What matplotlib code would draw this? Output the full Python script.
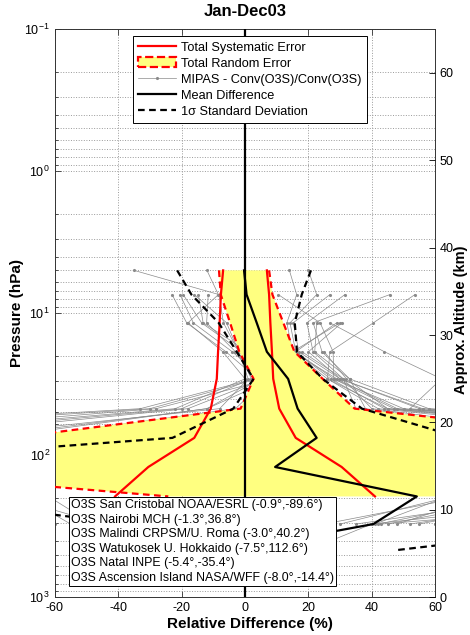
import numpy as np
import matplotlib
matplotlib.use('Agg')
import matplotlib.pyplot as plt
from matplotlib.lines import Line2D
from matplotlib.patches import Patch
from matplotlib.ticker import FixedLocator, LogFormatterSciNotation, NullFormatter

plt.rcParams['font.family'] = ['Liberation Sans', 'DejaVu Sans']
plt.rcParams['axes.unicode_minus'] = False
plt.rcParams['mathtext.fontset'] = 'custom'
plt.rcParams['mathtext.rm'] = 'Liberation Sans'
plt.rcParams['mathtext.it'] = 'Liberation Sans:italic'
plt.rcParams['mathtext.bf'] = 'Liberation Sans:bold'

# ---------------- data ----------------
title = 'Jan-Dec03'
pressure = np.array([5.0, 7.4, 11.7, 18.7, 29.0, 47.0, 75.5, 121.0, 195.0, 305.0, 464.0])
mean_diff = np.array([-0.3, 0.5, 3.7, 6.9, 13.6, 16.6, 22.6, 9.5, 54.2, 40.5, -3.5])
std_dev = np.array([21.1, 17.4, 12.0, 9.5, 10.9, 20.3, 45.5, 156.0, 159.7, 77.5, 51.8])
sys_err = np.array([6.9, 7.6, 8.0, 8.5, 8.9, 10.8, 16.0, 30.5, 41.0])
rand_err = np.array([7.9, 8.15, 8.4, 8.7, 10.9, 18.0, 96.4, 145.0, 78.4])

nan = np.nan
g01 = [-35, -8.2, -6.8, -2, 1, -8, -95, -150, -70, -55, nan]
g02 = [nan, -23, -18.4, -6, 4, -30, -170, -210, -90, -60, nan]
g03 = [nan, -20.5, -16.3, -4, 6, -18, -110, -160, -75, -45, nan]
g04 = [nan, -19.5, -13.7, -1, 9, -12, -80, -120, nan, nan, nan]
g05 = [nan, -14.7, -13.2, 1, 7, -3, -70, -100, -80, -65, nan]
g06 = [nan, -11.6, -12.1, -3, 3, -33, -190, -230, nan, nan, nan]
g07 = [-12, -8.4, -18, -7, 0, -22, -130, -170, -95, -62, nan]
g08 = [14, 16.3, 13.2, 15, 26, 45, 150, 200, 85, 42, nan]
g09 = [20, 22.6, 14.2, 16, 28, 50, 180, 220, 120, 40, 20]
g10 = [nan, 26.8, 15.2, 17, 30, 55, 200, 250, 150, 43, nan]
g11 = [nan, 31.5, 19.5, 21.5, 31, 40, 110, 140, 70, 25, nan]
g12 = [nan, 45.7, 21.5, 24.3, 33, 58, 240, 260, 95, 35, nan]
g13 = [nan, 53.6, 40.5, 26.8, 26, 42, 130, 170, 65, 30, nan]
g14 = [nan, 10.5, 23.7, 27.8, 28, 47, 170, 190, 100, 55, nan]
g15 = [nan, nan, 26.8, 44, 62, 52, 160, 180, nan, nan, nan]
g16 = [nan, nan, 28.9, 16, 27, 44, 140, 160, 75, 48, nan]
g17 = [nan, nan, 30, 15, 29, 48, 190, 230, 110, 52, nan]
g18 = [nan, nan, 30.5, 20, 30, 56, 210, 240, nan, nan, nan]
g19 = [nan, nan, 22.6, 22, 33, 38, 100, 120, 64, 41, nan]
g20 = [nan, nan, nan, -3, 5, -12, -85, -110, -62, -48, nan]
g21 = [nan, nan, nan, 0, 8, -28, -140, -180, -75, nan, nan]
g22 = [nan, -16, -5.8, -2, 2, -20, -120, -150, nan, nan, nan]
g23 = [nan, nan, nan, 18, 31, 35, 95, 130, 90, 45, nan]
g24 = [nan, nan, nan, 25, 32, 45, 160, 190, 200, 60, nan]
gray_profiles = [g01, g02, g03, g04, g05, g06, g07, g08, g09, g10, g11, g12,
                 g13, g14, g15, g16, g17, g18, g19, g20, g21, g22, g23, g24]

x_ticks = [-60, -40, -20, 0, 20, 40, 60]
alt_ticks = [0, 10, 20, 30, 40, 50, 60]
stations = ['O3S San Cristobal NOAA/ESRL (-0.9°,-89.6°)',
            'O3S Nairobi MCH (-1.3°,36.8°)',
            'O3S Malindi CRPSM/U. Roma (-3.0°,40.2°)',
            'O3S Watukosek U. Hokkaido (-7.5°,112.6°)',
            'O3S Natal INPE (-5.4°,-35.4°)',
            'O3S Ascension Island NASA/WFF (-8.0°,-14.4°)']
legend_labels = ['Total Systematic Error', 'Total Random Error',
                 'MIPAS - Conv(O3S)/Conv(O3S)', 'Mean Difference',
                 '1σ Standard Deviation']

# ---------------- figure ----------------
W, H = 470, 635
fig = plt.figure(figsize=(W / 100, H / 100), dpi=100)
axL, axR, axT, axB = 54.8, 435.2, 29.0, 597.3
ax = fig.add_axes([axL / W, 1 - axB / H, (axR - axL) / W, (axB - axT) / H])
ax.set_yscale('log')
ax.set_xlim(-60, 60)
ax.set_ylim(1000, 0.1)
ax.set_axisbelow(True)

gcol = '#8a8a8a'
for prof in gray_profiles:
    ax.plot(prof, pressure, color=gcol, lw=0.5, marker='.', ms=2.5, zorder=1.5)

n = len(rand_err)
ax.fill_betweenx(pressure[:n], mean_diff[:n] - rand_err, mean_diff[:n] + rand_err,
                 facecolor='#ffff80', edgecolor='none', zorder=2)
dash = (0, (3, 2))
ax.plot(mean_diff[:n] - rand_err, pressure[:n], color='red', lw=1.6, ls=dash, zorder=3)
ax.plot(mean_diff[:n] + rand_err, pressure[:n], color='red', lw=1.6, ls=dash, zorder=3)
ax.plot(-sys_err, pressure[:n], color='red', lw=1.6, zorder=3.2)
ax.plot(sys_err, pressure[:n], color='red', lw=1.6, zorder=3.2)
ax.plot(mean_diff - std_dev, pressure, color='black', lw=1.6, ls=dash, zorder=3.3)
ax.plot(mean_diff + std_dev, pressure, color='black', lw=1.6, ls=dash, zorder=3.3)
ax.plot(mean_diff, pressure, color='black', lw=1.6, zorder=3.5)
ax.axvline(0, color='black', lw=1.6, zorder=4)

ax.xaxis.set_major_locator(FixedLocator(x_ticks))
ax.yaxis.set_major_formatter(LogFormatterSciNotation())
ax.yaxis.set_minor_formatter(NullFormatter())
ax.tick_params(which='both', direction='in', top=True, right=True, labelsize=9,
               width=0.6, color='#333333')
ax.tick_params(which='major', length=4)
ax.tick_params(which='minor', length=2.5)
ax.grid(True, which='major', ls=':', color='#9a9a9a', lw=0.7)
ax.grid(True, which='minor', axis='y', ls=':', color='#9a9a9a', lw=0.7)
for s in ax.spines.values():
    s.set_linewidth(0.7)
    s.set_color('#333333')

ax2 = ax.twinx()
ax2.set_ylim(0, (axB - axT) / 8.74)
ax2.set_yticks(alt_ticks)
ax2.tick_params(direction='in', labelsize=9, length=4, width=0.6, pad=3)
for s in ax2.spines.values():
    s.set_visible(False)

# legend
h_sys = Line2D([], [], color='red', lw=1.6)
h_rand = Patch(facecolor='#ffff80', edgecolor='red', ls='--', lw=1.6)
h_gray = Line2D([], [], color=gcol, lw=0.5, marker='.', ms=2.5)
h_mean = Line2D([], [], color='black', lw=1.6)
h_std = Line2D([], [], color='black', lw=1.6, ls=dash)
leg = ax2.legend([h_sys, h_rand, h_gray, h_mean, h_std], legend_labels,
                 loc='upper center', bbox_to_anchor=((250 - axL) / (axR - axL), (axB - 36) / (axB - axT)),
                 fontsize=9.2, frameon=True, fancybox=False, edgecolor='black',
                 framealpha=1, borderpad=0.4, handlelength=3.0, handletextpad=0.4,
                 handleheight=0.85, labelspacing=0.28, borderaxespad=0)
leg.get_frame().set_linewidth(0.7)
leg.set_zorder(10)

# station box
txt = ax2.text((71 - axL) / (axR - axL), (axB - 499) / (axB - axT), '\n'.join(stations),
               transform=ax2.transAxes, ha='left', va='top', fontsize=8.9, linespacing=1.28,
               zorder=10,
               bbox=dict(boxstyle='square,pad=0.2', facecolor='white', edgecolor='black', lw=0.7))

fig.text(245 / W, 1 - 12 / H, title, ha='center', va='center', fontsize=12, fontweight='bold')
fig.text(250 / W, 1 - 624 / H, 'Relative Difference (%)', ha='center', va='center',
         fontsize=11, fontweight='bold')
fig.text(17 / W, 1 - 313 / H, 'Pressure (hPa)', ha='center', va='center', rotation=90,
         fontsize=11, fontweight='bold')
fig.text(461 / W, 1 - 320 / H, 'Approx. Altitude (km)', ha='center', va='center', rotation=90,
         fontsize=10.5, fontweight='bold')

fig.savefig('out.png', dpi=100)
